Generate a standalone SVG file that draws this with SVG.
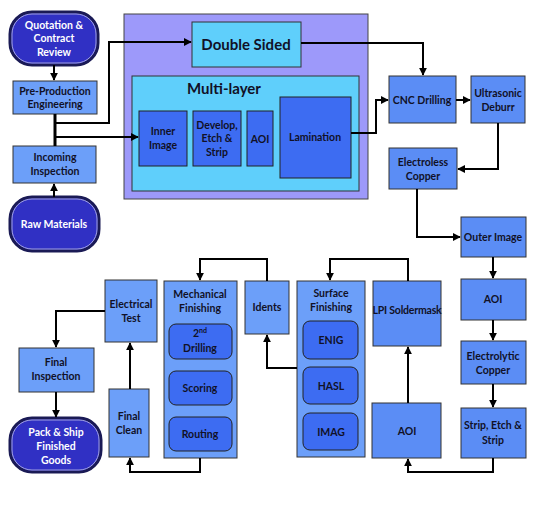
<svg xmlns="http://www.w3.org/2000/svg" width="535" height="509" viewBox="0 0 535 509">
<defs>
<marker id="ah" viewBox="0 0 10 10" refX="9" refY="5" markerWidth="4" markerHeight="4" orient="auto" markerUnits="strokeWidth"><path d="M0,0 L10,5 L0,10 z" fill="#000"/></marker>
<style>
.t{font-family:Lato,"Open Sans",sans-serif;font-weight:bold;font-size:10.5px;fill:#111127;text-anchor:middle;dominant-baseline:central}
.w{fill:#fff}
.big{font-size:15px}
.box{fill:#5b8df5;stroke:#333;stroke-width:1}
.lt{fill:#6c9ff9;stroke:#333;stroke-width:1}
.dk{fill:#3d6cf2;stroke:#222;stroke-width:1}
.cy{fill:#5fcffb;stroke:#333;stroke-width:1}
.term{fill:#3030c4;stroke:#1a1a55;stroke-width:3}
.termi{fill:none;stroke:#a0a0e0;stroke-width:1}
.c{fill:none;stroke:#000;stroke-width:2}
</style>
</defs>
<rect width="535" height="509" fill="#fff"/>
<g id="multi-container">
<rect x="124" y="14" width="244" height="185" fill="#9d99fa" stroke="#444" stroke-width="1"/>
</g>
<g id="double-sided"><rect class="cy" x="192" y="22" width="109" height="45"/><text class="t big" x="246" y="44">Double Sided</text></g>
<g id="multi-layer"><rect class="cy" x="132" y="76" width="227" height="115"/><text class="t big" x="224" y="88">Multi-layer</text></g>
<g id="inner-image"><rect class="dk" x="139" y="111" width="48" height="55"/><text class="t" x="163" y="131">Inner</text><text class="t" x="163" y="145">Image</text></g>
<g id="develop"><rect class="dk" x="193" y="111" width="48" height="55"/><text class="t" x="217" y="125">Develop,</text><text class="t" x="217" y="138">Etch &amp;</text><text class="t" x="217" y="152">Strip</text></g>
<g id="aoi-inner"><rect class="dk" x="247" y="111" width="26" height="55"/><text class="t" x="260" y="139">AOI</text></g>
<g id="lamination"><rect class="dk" x="280" y="97" width="71" height="81"/><text class="t" x="315" y="137">Lamination</text></g>
<g id="quotation"><rect class="term" x="10" y="12" width="88" height="53" rx="22"/><rect class="termi" x="12" y="14" width="84" height="49" rx="20"/><text class="t w" x="54" y="25">Quotation &amp;</text><text class="t w" x="54" y="38">Contract</text><text class="t w" x="54" y="52">Review</text></g>
<g id="pre-production"><rect class="lt" x="13" y="81" width="84" height="33"/><text class="t" x="55" y="91">Pre-Production</text><text class="t" x="55" y="104">Engineering</text></g>
<g id="incoming"><rect class="lt" x="13" y="146" width="83" height="37"/><text class="t" x="55" y="157">Incoming</text><text class="t" x="55" y="171">Inspection</text></g>
<g id="raw-materials"><rect class="term" x="10" y="197" width="89" height="54" rx="22"/><rect class="termi" x="12" y="199" width="85" height="50" rx="20"/><text class="t w" x="54" y="224">Raw Materials</text></g>
<g id="cnc"><rect class="box" x="389" y="76" width="67" height="47"/><text class="t" x="422" y="100">CNC Drilling</text></g>
<g id="ultrasonic"><rect class="box" x="471" y="76" width="54" height="47"/><text class="t" x="498" y="93">Ultrasonic</text><text class="t" x="498" y="107">Deburr</text></g>
<g id="electroless"><rect class="box" x="389" y="148" width="68" height="41"/><text class="t" x="423" y="162">Electroless</text><text class="t" x="423" y="176">Copper</text></g>
<g id="outer-image"><rect class="box" x="461" y="217" width="65" height="40"/><text class="t" x="493" y="237">Outer Image</text></g>
<g id="aoi-2"><rect class="box" x="461" y="279" width="65" height="41"/><text class="t" x="493" y="299">AOI</text></g>
<g id="electrolytic"><rect class="box" x="461" y="341" width="65" height="43"/><text class="t" x="493" y="356">Electrolytic</text><text class="t" x="493" y="370">Copper</text></g>
<g id="strip-etch"><rect class="box" x="461" y="408" width="65" height="50"/><text class="t" x="493" y="425">Strip, Etch &amp;</text><text class="t" x="493" y="440">Strip</text></g>
<g id="aoi-3"><rect class="box" x="372" y="403" width="69" height="55"/><text class="t" x="407" y="431">AOI</text></g>
<g id="lpi"><rect class="box" x="373" y="281" width="68" height="65"/><text class="t" x="407" y="310" letter-spacing="-0.2">LPI Soldermask</text></g>
<g id="surface"><rect class="lt" x="297" y="281" width="68" height="176"/><text class="t" x="331" y="293">Surface</text><text class="t" x="331" y="307">Finishing</text>
<rect class="dk" x="303" y="321" width="55" height="38" rx="7"/><text class="t" x="331" y="340">ENIG</text>
<rect class="dk" x="303" y="367" width="55" height="37" rx="7"/><text class="t" x="331" y="386">HASL</text>
<rect class="dk" x="303" y="413" width="55" height="37" rx="7"/><text class="t" x="331" y="432">IMAG</text></g>
<g id="idents"><rect class="lt" x="245" y="281" width="44" height="53"/><text class="t" x="267" y="307">Idents</text></g>
<g id="mechanical"><rect class="lt" x="164" y="281" width="73" height="177"/><text class="t" x="200" y="294">Mechanical</text><text class="t" x="200" y="308">Finishing</text>
<rect class="dk" x="169" y="324" width="63" height="35" rx="7"/><text class="t" x="200" y="333">2<tspan font-size="7" dy="-3">nd</tspan></text><text class="t" x="200" y="348">Drilling</text>
<rect class="dk" x="169" y="371" width="63" height="34" rx="7"/><text class="t" x="200" y="388">Scoring</text>
<rect class="dk" x="169" y="417" width="63" height="34" rx="7"/><text class="t" x="200" y="434">Routing</text></g>
<g id="electrical"><rect class="lt" x="105" y="280" width="52" height="62"/><text class="t" x="131" y="304">Electrical</text><text class="t" x="131" y="318">Test</text></g>
<g id="final-clean"><rect class="lt" x="109" y="389" width="40" height="68"/><text class="t" x="129" y="416">Final</text><text class="t" x="129" y="430">Clean</text></g>
<g id="final-inspection"><rect class="lt" x="19" y="348" width="75" height="44"/><text class="t" x="56" y="362">Final</text><text class="t" x="56" y="376">Inspection</text></g>
<g id="pack-ship"><rect class="term" x="10" y="418" width="91" height="54" rx="22"/><rect class="termi" x="12" y="420" width="87" height="50" rx="20"/><text class="t w" x="56" y="432">Pack &amp; Ship</text><text class="t w" x="56" y="446">Finished</text><text class="t w" x="56" y="460">Goods</text></g>
<g id="connectors">
<path class="c" d="M54,65 V80" marker-end="url(#ah)"/>
<path class="c" d="M54,197 V184" marker-end="url(#ah)"/>
<path d="M55,114 V146" fill="none" stroke="#000" stroke-width="3"/>
<path class="c" d="M55,123 H109 V42 H191" marker-end="url(#ah)"/>
<path class="c" d="M55,137 H138" marker-end="url(#ah)"/>
<path class="c" d="M301,43 H423 V75" marker-end="url(#ah)"/>
<path class="c" d="M351,133 H376 V100 H388" marker-end="url(#ah)"/>
<path class="c" d="M456,100 H470" marker-end="url(#ah)"/>
<path class="c" d="M498,123 V169 H458" marker-end="url(#ah)"/>
<path class="c" d="M417,189 V237 H460" marker-end="url(#ah)"/>
<path class="c" d="M493,257 V278" marker-end="url(#ah)"/>
<path class="c" d="M493,320 V340" marker-end="url(#ah)"/>
<path class="c" d="M493,384 V407" marker-end="url(#ah)"/>
<path class="c" d="M493,458 V472 H408 V459" marker-end="url(#ah)"/>
<path class="c" d="M408,403 V347" marker-end="url(#ah)"/>
<path class="c" d="M408,281 V259 H330 V280" marker-end="url(#ah)"/>
<path class="c" d="M297,368 H267 V335" marker-end="url(#ah)"/>
<path class="c" d="M267,281 V259 H200 V280" marker-end="url(#ah)"/>
<path class="c" d="M200,458 V472 H130 V458" marker-end="url(#ah)"/>
<path class="c" d="M130,389 V343" marker-end="url(#ah)"/>
<path class="c" d="M105,311 H56 V347" marker-end="url(#ah)"/>
<path class="c" d="M56,392 V417" marker-end="url(#ah)"/>
</g>
</svg>
